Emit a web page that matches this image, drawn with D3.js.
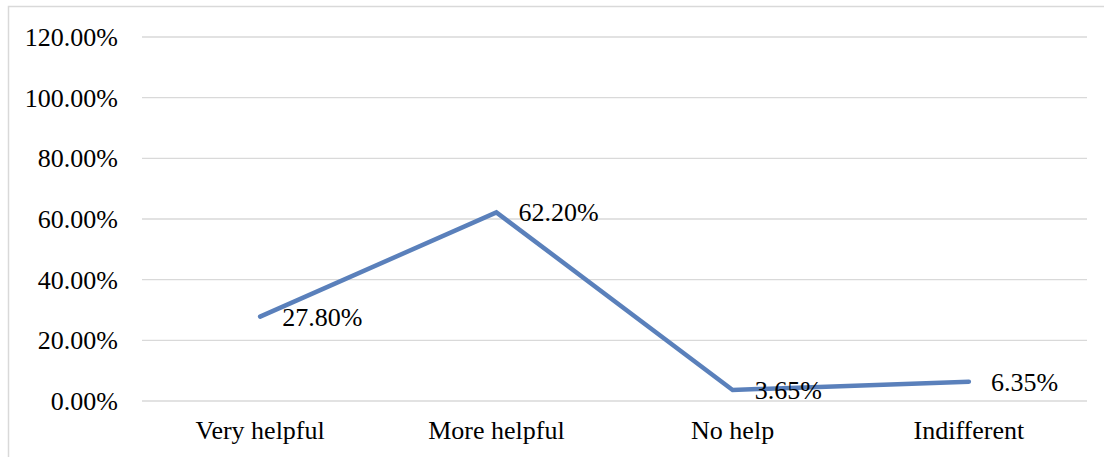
<!DOCTYPE html>
<html>
<head>
<meta charset="utf-8">
<script src="https://cdn.jsdelivr.net/npm/d3@7"></script>
<style>
  body { margin: 0; background: #ffffff; }
</style>
</head>
<body>
<div id="chart"></div>
<script>
const categories = ['Very helpful', 'More helpful', 'No help', 'Indifferent'];
const values = [27.80, 62.20, 3.65, 6.35];
const labels = ['27.80%', '62.20%', '3.65%', '6.35%'];
const ticks = [0, 20, 40, 60, 80, 100, 120];

let width = 1104, height = 457;
let margin = {left: 142, right: 17, top: 37, bottom: 56};
let font = "'Liberation Serif', 'Times New Roman', serif";

let svg = d3.select('#chart')
        .append('svg')
        .attr('width', width)
        .attr('height', height)
        .attr('font-family', font);

// chart frame (only left and top edges fall inside the picture)
svg.append('rect')
    .attr('x', 8.5).attr('y', 6.5)
    .attr('width', 1120).attr('height', 470)
    .attr('fill', '#ffffff')
    .attr('stroke', '#d9d9d9')
    .attr('stroke-width', 1.5);

let x = d3.scaleBand()
    .domain(categories)
    .range([margin.left, width - margin.right]);

let y = d3.scaleLinear()
    .domain([0, 120])
    .range([height - margin.bottom, margin.top]);

// gridlines
svg.selectAll('.grid')
    .data(ticks)
  .enter().append('line')
    .attr('class', 'grid')
    .attr('x1', margin.left)
    .attr('x2', width - margin.right)
    .attr('y1', d => y(d))
    .attr('y2', d => y(d))
    .attr('stroke', '#d9d9d9')
    .attr('stroke-width', 1.3);

// y tick labels
svg.selectAll('.ytick')
    .data(ticks)
  .enter().append('text')
    .attr('class', 'ytick')
    .attr('x', 118)
    .attr('y', d => y(d))
    .attr('dy', '0.35em')
    .style('text-anchor', 'end')
    .style('font-size', '26px')
    .attr('fill', '#000000')
    .text(d => d.toFixed(2) + '%');

// category labels
svg.selectAll('.xtick')
    .data(categories)
  .enter().append('text')
    .attr('class', 'xtick')
    .attr('x', d => x(d) + x.bandwidth() / 2)
    .attr('y', 439)
    .style('text-anchor', 'middle')
    .style('font-size', '26px')
    .attr('fill', '#000000')
    .text(d => d);

let line = d3.line()
    .x((d, i) => x(categories[i]) + x.bandwidth() / 2)
    .y(d => y(d));

svg.append('path')
    .datum(values)
    .attr('d', line)
    .attr('fill', 'none')
    .attr('stroke', '#5a80bb')
    .attr('stroke-width', 4.5)
    .attr('stroke-linecap', 'round')
    .attr('stroke-linejoin', 'miter');

// data labels, to the right of each point
svg.selectAll('.dlabel')
    .data(values)
  .enter().append('text')
    .attr('class', 'dlabel')
    .attr('x', (d, i) => x(categories[i]) + x.bandwidth() / 2 + 22)
    .attr('y', d => y(d))
    .attr('dy', '0.35em')
    .style('font-size', '26px')
    .attr('fill', '#000000')
    .text((d, i) => labels[i]);
</script>
</body>
</html>
